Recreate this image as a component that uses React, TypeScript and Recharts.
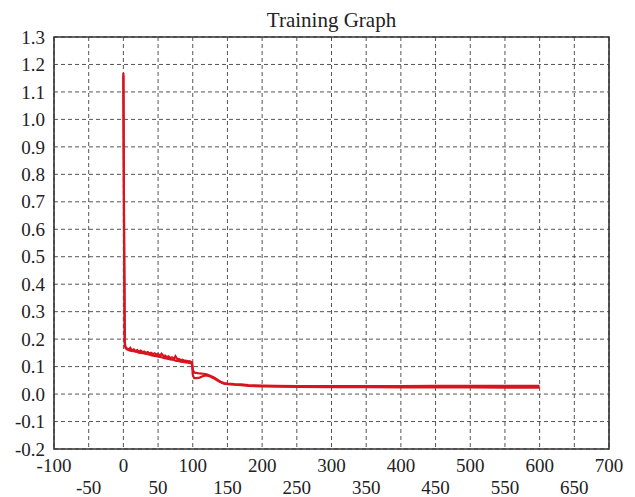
import { CartesianGrid, Line, LineChart, ReferenceArea, XAxis, YAxis } from "recharts";

// epochs sampled along the x axis
const epochs = [
  0, 1, 2, 3, 5, 8, 10, 12, 15, 18, 20, 22, 25, 28, 30, 33, 35, 38, 40, 43, 45, 48, 50, 53, 55, 58,
  60, 63, 65, 68, 70, 73, 75, 78, 80, 83, 85, 88, 90, 93, 95, 98, 99, 100, 102, 105, 110, 115, 120,
  125, 130, 135, 140, 145, 150, 160, 170, 180, 200, 220, 250, 300, 350, 400, 450, 500, 550, 600,
];

// upper (noisier) curve
const lossA = [
  1.17, 0.62, 0.19, 0.172, 0.166, 0.162, 0.168, 0.159, 0.163, 0.156, 0.16, 0.154, 0.158, 0.152, 0.155,
  0.15, 0.153, 0.147, 0.15, 0.145, 0.148, 0.143, 0.146, 0.14, 0.147, 0.138, 0.14, 0.134, 0.137, 0.131,
  0.134, 0.128, 0.138, 0.126, 0.128, 0.123, 0.125, 0.121, 0.122, 0.119, 0.12, 0.117, 0.116, 0.09,
  0.078, 0.077, 0.075, 0.074, 0.072, 0.067, 0.061, 0.053, 0.045, 0.04, 0.038, 0.036, 0.035, 0.033,
  0.031, 0.03, 0.029, 0.029, 0.029, 0.029, 0.03, 0.03, 0.03, 0.03,
];

// lower (smoother) curve
const lossB = [
  1.16, 0.55, 0.18, 0.168, 0.163, 0.16, 0.158, 0.157, 0.156, 0.154, 0.153, 0.151, 0.15, 0.149, 0.148,
  0.146, 0.145, 0.143, 0.142, 0.14, 0.139, 0.138, 0.136, 0.135, 0.134, 0.132, 0.131, 0.129, 0.128,
  0.126, 0.125, 0.124, 0.122, 0.121, 0.12, 0.118, 0.117, 0.116, 0.115, 0.114, 0.113, 0.112, 0.111,
  0.07, 0.058, 0.058, 0.06, 0.066, 0.068, 0.064, 0.058, 0.05, 0.043, 0.038, 0.036, 0.034, 0.032, 0.03,
  0.028, 0.027, 0.026, 0.025, 0.025, 0.024, 0.024, 0.024, 0.023, 0.023,
];

const xTicks = [
  -100, -50, 0, 50, 100, 150, 200, 250, 300, 350, 400, 450, 500, 550, 600, 650, 700,
];
const yTicks = [
  -0.2, -0.1, 0, 0.1, 0.2, 0.3, 0.4, 0.5, 0.6, 0.7, 0.8, 0.9, 1.0, 1.1, 1.2, 1.3,
];

const data = epochs.map((e, i) => ({ epoch: e, a: lossA[i], b: lossB[i] }));

const FONT = '"Liberation Serif", "Times New Roman", serif';
const RED = "#d8141f";

const XTick = (props: any) => {
  const { x, y, payload } = props;
  const lower = payload.value % 100 !== 0;
  return (
    <text
      x={x}
      y={y + (lower ? 45 : 23)}
      textAnchor="middle"
      style={{ fontFamily: FONT, fontSize: 19, fill: "#222" }}
    >
      {payload.value}
    </text>
  );
};

const YTick = (props: any) => {
  const { y, payload } = props;
  return (
    <text
      x={45}
      y={y}
      dy="0.35em"
      textAnchor="end"
      style={{ fontFamily: FONT, fontSize: 19, fill: "#222" }}
    >
      {Number(payload.value).toFixed(1)}
    </text>
  );
};

const App = () => {
  return (
    <div style={{ position: "absolute", left: 0, top: 0, width: 635, height: 497, background: "#fff" }}>
      <div
        style={{
          position: "absolute",
          left: 0,
          width: 663,
          top: 10,
          lineHeight: "20px",
          textAlign: "center",
          fontFamily: FONT,
          fontSize: 21,
          color: "#222",
        }}
      >
        Training Graph
      </div>
      <LineChart
        width={635}
        height={497}
        data={data}
        margin={{ top: 37, right: 26, left: 0, bottom: 0 }}
      >
        <CartesianGrid stroke="#555" strokeDasharray="4 3" strokeWidth={1} />
        <XAxis
          dataKey="epoch"
          type="number"
          domain={[-100, 700]}
          ticks={xTicks}
          interval={0}
          height={48}
          axisLine={false}
          tickLine={false}
          tickSize={0}
          tickMargin={0}
          tick={<XTick />}
        />
        <YAxis
          type="number"
          domain={[-0.2, 1.3]}
          ticks={yTicks}
          interval={0}
          width={54}
          axisLine={false}
          tickLine={false}
          tick={<YTick />}
        />
        <ReferenceArea
          x1={-100}
          x2={700}
          y1={-0.2}
          y2={1.3}
          fill="none"
          stroke="#333"
          strokeWidth={1.6}
        />
        <Line
          type="linear"
          dataKey="a"
          stroke={RED}
          strokeWidth={2.2}
          dot={false}
          isAnimationActive={false}
        />
        <Line
          type="linear"
          dataKey="b"
          stroke={RED}
          strokeWidth={2.2}
          dot={false}
          isAnimationActive={false}
        />
      </LineChart>
    </div>
  );
};

export default App;
